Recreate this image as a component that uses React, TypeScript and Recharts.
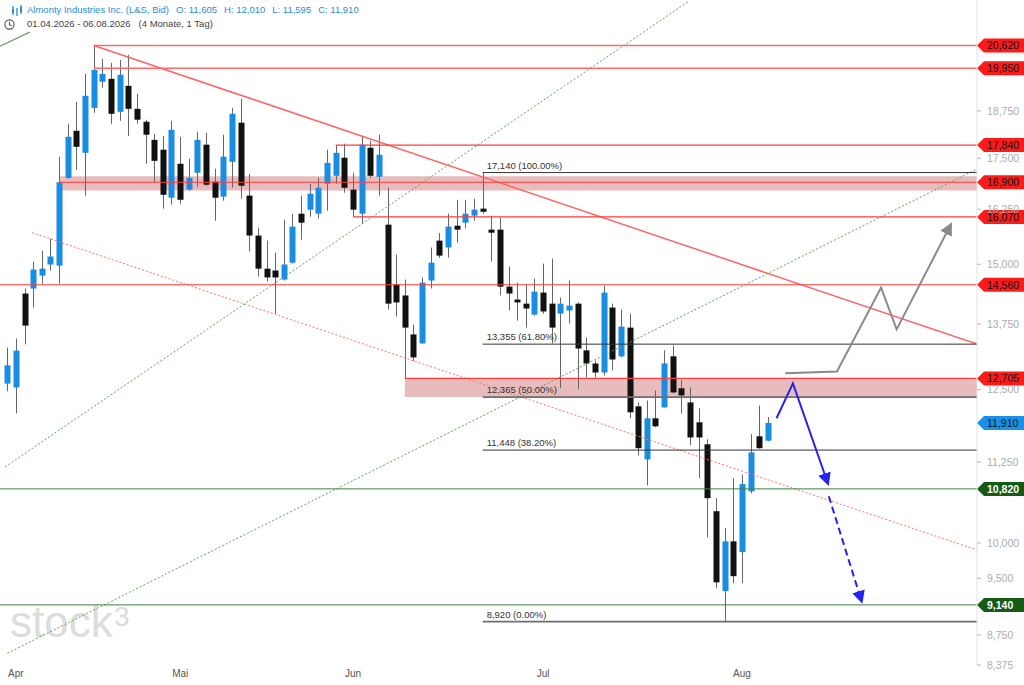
import React from "react";
import {
  ComposedChart,
  Bar,
  Line,
  XAxis,
  YAxis,
  ReferenceLine,
  ReferenceArea,
} from "recharts";

// ─── Data ─────────────────────────────────────────────────────────────────────

// daily candles 01.04.2026 – 06.08.2026 (L&S, Bid)
const OPEN = [
  12610, 12540, 14375, 14480, 14755, 14995, 14970, 17010, 18215, 17640,
  18830, 19560, 19645, 18725, 19445, 18805, 18455, 17975, 17720, 16525,
  17360, 16720, 17135, 17850, 16915, 16550, 17410, 18430, 16575, 15640,
  14905, 14865, 14670, 15035, 16145, 16240, 16145, 16865, 17060, 17515,
  16720, 16145, 17770, 17035, 15890, 14565, 14335, 13545, 13370, 14650,
  15525, 15370, 15865, 15935, 16100, 16265, 15775, 15775, 14520, 14250,
  14165, 13940, 14395, 14165, 13960, 14025, 14165, 13235, 12985, 12815,
  14085, 13120, 13680, 12200, 11295, 11990, 12180, 13120, 12525, 12270,
  11920, 11545, 10475, 9325, 10025, 9870, 10780, 11680, 11605,
];
const HIGH = [
  13290, 13465, 14480, 15060, 15300, 15570, 17540, 18400, 19000, 19785,
  20620, 20220, 20105, 20190, 20340, 19220, 18510, 18135, 18080, 18480,
  18055, 17490, 18190, 18160, 17235, 18110, 18830, 19080, 17110, 15820,
  15525, 15255, 16005, 16145, 16575, 16865, 17010, 17720, 17840, 17875,
  17135, 18080, 17950, 18110, 16765, 15215, 14670, 13740, 14715, 15370,
  15700, 16145, 16475, 16475, 16500, 17140, 16100, 16050, 14950, 14605,
  14565, 14690, 15015, 15125, 14290, 14650, 14190, 13485, 13040, 14545,
  14165, 14045, 13960, 12270, 12305, 12485, 13235, 13330, 12670, 12540,
  12165, 11630, 10675, 10220, 10990, 11050, 11715, 12215, 12010,
];
const LOW = [
  12470, 12075, 13350, 14085, 14585, 14865, 14585, 16985, 17210, 16575,
  18695, 19390, 18400, 18480, 18080, 18400, 17360, 16890, 16265, 16360,
  16380, 16695, 16790, 16815, 15980, 16455, 16765, 16500, 15280, 14735,
  14630, 13960, 14650, 15015, 15545, 16075, 16030, 16215, 16865, 16645,
  16070, 15915, 17010, 16575, 14045, 13900, 12705, 13025, 13360, 14480,
  15140, 15145, 15480, 15800, 15980, 16145, 15060, 14335, 14025, 13820,
  13680, 13920, 13960, 13370, 12525, 13760, 12505, 12725, 12725, 12760,
  12855, 13100, 11990, 11360, 10875, 11835, 12180, 12430, 12075, 11530,
  10990, 10085, 9365, 8920, 9435, 9435, 10750, 11470, 11595,
];
const CLOSE = [
  12950, 13230, 13720, 14885, 14905, 15170, 16900, 18055, 17795, 19165,
  19900, 19785, 18670, 19760, 18805, 18510, 18110, 17435, 16595, 18240,
  16475, 17010, 17975, 16840, 16525, 17540, 18670, 16815, 15640, 14905,
  14715, 14715, 14995, 15845, 15935, 16620, 16765, 17385, 17640, 16765,
  16240, 17850, 17060, 17590, 14165, 14190, 13680, 13100, 14605, 15035,
  15190, 15845, 15775, 16145, 16240, 16190, 15705, 14520, 14375, 14190,
  14065, 14415, 14005, 13680, 14165, 14125, 13270, 12985, 12815, 14395,
  13060, 13700, 12095, 11480, 11990, 11850, 12985, 12450, 12395, 11660,
  11660, 10675, 9445, 10025, 9530, 10895, 11410, 11480, 11910,
];

const MONTH_TICKS = [0, 20, 40, 62, 85];
const MONTH_LABELS = ["Apr", "Mai", "Jun", "Jul", "Aug"];
const PRICE_TICKS = [8375, 8750, 9500, 10000, 11250, 12500, 13750, 15000, 16250, 17500, 18750];

// support / resistance levels and the candle index where each one starts
const RED_LEVELS = [20620, 19950, 17840, 16900, 16070, 14560, 12705];
const RED_STARTS = [10, 10, 38, 6, 40, 0, 46];
const GREEN_LEVELS = [10820, 9140];
const LAST_PRICE = 11910;

// shaded zones: [bottom, top], start index
const ZONE_LOWS = [16700, 12365];
const ZONE_HIGHS = [17050, 12705];
const ZONE_STARTS = [6, 46];

// Fibonacci retracement from the 17,140 high (index 55)
const FIB_LEVELS = [17140, 13355, 12365, 11448, 8920];
const FIB_LABELS = ["100.00%", "61.80%", "50.00%", "38.20%", "0.00%"];
const FIB_START = 55;

// trend lines
const DOWN_TREND = [{ i: 10, v: 20620 }, { i: 112.2, v: 13355 }];
const DOWN_CHANNEL = [{ i: 2.85, v: 15705 }, { i: 112.2, v: 9900 }];
const UP_LINE_A = [{ i: 0, v: 8520 }, { i: 112.2, v: 17230 }];
const UP_LINE_B = [{ i: -0.27, v: 11170 }, { i: 78.9, v: 22000 }];
const OLD_LINE = [{ i: -0.85, v: 20600 }, { i: 2.6, v: 21025 }];

// projected scenarios
const GRAY_PATH = [
  { i: 90, v: 12800 },
  { i: 96, v: 12835 },
  { i: 101.1, v: 14500 },
  { i: 102.9, v: 13645 },
  { i: 109.1, v: 15865 },
];
const BLUE_PATH = [
  { i: 89, v: 11990 },
  { i: 90.9, v: 12615 },
  { i: 94.9, v: 10925 },
];
const BLUE_DASH = [
  { i: 95.05, v: 10705 },
  { i: 98.8, v: 9205 },
];

// ─── Styles ───────────────────────────────────────────────────────────────────

const FONT = 'Arial, "Liberation Sans", sans-serif';
const UP_COLOR = "#178ee4";
const DOWN_COLOR = "#111111";
const WICK_COLOR = "#666666";
const RED = "#ff3b3b";
const GREEN = "#3c7f3c";
const BODY_W = 6;
const X_MAX = 112.2;
const Y_DOMAIN: [number, number] = [8375, 22030];

const fmt = (v: number) => v.toLocaleString("en-US");

const candles = OPEN.map((o, idx) => ({
  i: idx,
  o,
  h: HIGH[idx],
  l: LOW[idx],
  c: CLOSE[idx],
}));

// ─── Shapes ───────────────────────────────────────────────────────────────────

function Candle(props: any) {
  const { x, y, width, height, payload } = props;
  if (!payload || x == null) return null;
  const { o, h, l, c } = payload;
  const top = Math.min(y, y + height);
  const bottom = Math.max(y, y + height);
  const span = Math.log(h) - Math.log(l);
  // log axis: interpolate body edges between the high and low pixels
  const py = (v: number) =>
    span > 0 ? top + ((bottom - top) * (Math.log(h) - Math.log(v))) / span : top;
  const bodyTop = py(Math.max(o, c));
  const bodyBottom = py(Math.min(o, c));
  const cx = Math.round(x + (width || 0) / 2) + 0.5;
  return (
    <g>
      <line x1={cx} x2={cx} y1={top} y2={bottom} stroke={WICK_COLOR} strokeWidth={1} />
      <rect
        x={cx - BODY_W / 2}
        y={bodyTop}
        width={BODY_W}
        height={Math.max(1, bodyBottom - bodyTop)}
        fill={c >= o ? UP_COLOR : DOWN_COLOR}
      />
    </g>
  );
}

function MonthTick(props: any) {
  const { x, y, payload, index } = props;
  const label = MONTH_LABELS[MONTH_TICKS.indexOf(payload.value)] ?? "";
  return (
    <text
      x={index === 0 ? Math.max(x, 8) : x}
      y={y}
      dy="0.8em"
      textAnchor={index === 0 ? "start" : "middle"}
      fontSize={10}
      fontFamily={FONT}
      fill="#555"
    >
      {label}
    </text>
  );
}

const priceTag = (value: number, fill: string, color: string, bold = false) =>
  (props: any) => {
    const vb = props.viewBox || {};
    const x0 = (vb.x ?? 0) + (vb.width ?? 0);
    const yc = vb.y ?? 0;
    return (
      <g>
        <path
          d={`M${x0},${yc} L${x0 + 7},${yc - 7} L1024,${yc - 7} L1024,${yc + 7} L${x0 + 7},${yc + 7} Z`}
          fill={fill}
        />
        <text
          x={x0 + 10}
          y={yc}
          dy="0.36em"
          fontSize={10.5}
          fontFamily={FONT}
          fontWeight={bold ? 700 : 400}
          fill={color}
        >
          {fmt(value)}
        </text>
      </g>
    );
  };

const fibLabel = (value: number, pct: string) => (props: any) => {
  const vb = props.viewBox || {};
  return (
    <text
      x={(vb.x ?? 0) + 4}
      y={(vb.y ?? 0) - 4}
      fontSize={9.5}
      fontFamily={FONT}
      fill="#333"
    >
      {`${fmt(value)} (${pct})`}
    </text>
  );
};

// ─── Chart ────────────────────────────────────────────────────────────────────

export default function App() {
  const lastIdx = OPEN.length - 1;
  return (
    <div
      style={{
        position: "absolute",
        left: 0,
        top: 0,
        width: 1024,
        height: 685,
        background: "#fff",
        overflow: "hidden",
        fontFamily: FONT,
      }}
    >
      <svg width={0} height={0} style={{ position: "absolute" }}>
        <defs>
          <marker id="arrGray" viewBox="0 0 10 10" refX="7" refY="5" markerWidth="13" markerHeight="13" markerUnits="userSpaceOnUse" orient="auto">
            <path d="M0,0 L10,5 L0,10 Z" fill="#8a8a8a" />
          </marker>
          <marker id="arrBlue" viewBox="0 0 10 10" refX="7" refY="5" markerWidth="13" markerHeight="13" markerUnits="userSpaceOnUse" orient="auto">
            <path d="M0,0 L10,5 L0,10 Z" fill="#2424ee" />
          </marker>
        </defs>
      </svg>

      {/* watermark */}
      <div style={{ position: "absolute", left: 10, top: 600, fontSize: 44, lineHeight: "44px", color: "#dcdcdc" }}>
        stock
      </div>
      <div style={{ position: "absolute", left: 114, top: 603, fontSize: 28, lineHeight: "28px", color: "#dcdcdc" }}>
        3
      </div>

      <div style={{ position: "absolute", left: 0, top: 0 }}>
        <ComposedChart
          width={1024}
          height={685}
          data={candles}
          margin={{ top: 0, right: 0, bottom: 0, left: 0 }}
        >
          <XAxis
            dataKey="i"
            type="number"
            domain={[-0.85, X_MAX]}
            allowDataOverflow
            ticks={MONTH_TICKS}
            interval={0}
            axisLine={false}
            tickLine={false}
            tickSize={0}
            tickMargin={4}
            height={20}
            tick={<MonthTick />}
          />
          <YAxis
            orientation="right"
            scale="log"
            domain={Y_DOMAIN}
            allowDataOverflow
            ticks={PRICE_TICKS}
            interval={0}
            tickFormatter={fmt}
            width={47}
            axisLine={{ stroke: "#e2e2e2" }}
            tickLine={{ stroke: "#b5b5b5" }}
            tickSize={4}
            tickMargin={6}
            tick={{ fontSize: 10.5, fill: "#adadad", fontFamily: FONT }}
          />

          {/* trend lines */}
          <ReferenceLine segment={UP_LINE_A.map((p) => ({ x: p.i, y: p.v }))} stroke="#5f9f5f" strokeDasharray="2 2" ifOverflow="hidden" />
          <ReferenceLine segment={UP_LINE_B.map((p) => ({ x: p.i, y: p.v }))} stroke="#5f9f5f" strokeDasharray="2 2" ifOverflow="hidden" />
          <ReferenceLine segment={OLD_LINE.map((p) => ({ x: p.i, y: p.v }))} stroke="#6aa36a" strokeWidth={1.2} ifOverflow="hidden" />
          <ReferenceLine segment={DOWN_CHANNEL.map((p) => ({ x: p.i, y: p.v }))} stroke="#ff7070" strokeDasharray="2 2" ifOverflow="hidden" />
          <ReferenceLine segment={DOWN_TREND.map((p) => ({ x: p.i, y: p.v }))} stroke="#ff6464" strokeWidth={1.5} ifOverflow="hidden" />

          {/* horizontal levels */}
          {GREEN_LEVELS.map((v) => (
            <ReferenceLine
              key={`g-${v}`}
              segment={[{ x: -0.85, y: v }, { x: X_MAX, y: v }]}
              stroke={GREEN}
              label={priceTag(v, "#155a15", "#fff", true)}
            />
          ))}
          {FIB_LEVELS.map((v, k) => (
            <ReferenceLine
              key={`f-${v}`}
              segment={[{ x: FIB_START, y: v }, { x: X_MAX, y: v }]}
              stroke={k === 2 || k === 4 ? "#6e6e6e" : "#333"}
              strokeWidth={k === 2 || k === 4 ? 1.6 : 1}
              label={fibLabel(v, FIB_LABELS[k])}
            />
          ))}

          <Bar
            dataKey={(d: any) => [d.l, d.h]}
            barSize={BODY_W}
            shape={<Candle />}
            isAnimationActive={false}
          />

          {ZONE_LOWS.map((lo, k) => (
            <ReferenceArea
              key={`z-${lo}`}
              x1={ZONE_STARTS[k]}
              x2={X_MAX}
              y1={lo}
              y2={ZONE_HIGHS[k]}
              fill="#d27a7a"
              fillOpacity={0.5}
              stroke="none"
              ifOverflow="hidden"
            />
          ))}

          {RED_LEVELS.map((v, k) => (
            <ReferenceLine
              key={`r-${v}`}
              segment={[{ x: RED_STARTS[k] === 0 ? -0.85 : RED_STARTS[k], y: v }, { x: X_MAX, y: v }]}
              stroke={k < 2 ? "#ff6a6a" : RED}
              strokeWidth={k < 2 ? 1.5 : 1.2}
              label={priceTag(v, "#ff1a1a", "#111")}
            />
          ))}
          <ReferenceLine
            segment={[{ x: X_MAX - 1, y: LAST_PRICE }, { x: X_MAX, y: LAST_PRICE }]}
            stroke="none"
            label={priceTag(LAST_PRICE, "#1a90e8", "#111")}
          />

          {/* projected scenarios */}
          <Line
            data={GRAY_PATH}
            dataKey="v"
            type="linear"
            stroke="#8a8a8a"
            strokeWidth={2}
            dot={false}
            activeDot={false}
            markerEnd="url(#arrGray)"
            isAnimationActive={false}
          />
          <Line
            data={BLUE_PATH}
            dataKey="v"
            type="linear"
            stroke="#2424ee"
            strokeWidth={2}
            dot={false}
            activeDot={false}
            markerEnd="url(#arrBlue)"
            isAnimationActive={false}
          />
          <Line
            data={BLUE_DASH}
            dataKey="v"
            type="linear"
            stroke="#2424ee"
            strokeWidth={2}
            strokeDasharray="7 4"
            dot={false}
            activeDot={false}
            markerEnd="url(#arrBlue)"
            isAnimationActive={false}
          />
        </ComposedChart>
      </div>

      {/* header */}
      <div
        style={{
          position: "absolute",
          left: 11,
          top: 4,
          fontSize: 9.5,
          lineHeight: "12px",
          color: "#2d8bd4",
          display: "flex",
          alignItems: "center",
          whiteSpace: "nowrap",
        }}
      >
        <svg width={12} height={11} style={{ marginRight: 4 }}>
          <g stroke="#2d8bd4" strokeWidth={1.3}>
            <line x1={2} y1={1} x2={2} y2={10} />
            <line x1={6} y1={3} x2={6} y2={11} />
            <line x1={10} y1={0} x2={10} y2={9} />
          </g>
          <rect x={1} y={4} width={2} height={4} fill="#2d8bd4" />
          <rect x={9} y={2} width={2} height={5} fill="#2d8bd4" />
        </svg>
        <span style={{ marginRight: 7 }}>Almonty Industries Inc. (L&amp;S, Bid)</span>
        <span style={{ marginRight: 7 }}>O: {fmt(OPEN[lastIdx])}</span>
        <span style={{ marginRight: 7 }}>H: {fmt(HIGH[lastIdx])}</span>
        <span style={{ marginRight: 7 }}>L: {fmt(LOW[lastIdx])}</span>
        <span>C: {fmt(CLOSE[lastIdx])}</span>
      </div>
      <div
        style={{
          position: "absolute",
          left: 4,
          top: 18,
          fontSize: 9.5,
          lineHeight: "12px",
          color: "#444",
          display: "flex",
          alignItems: "center",
          whiteSpace: "nowrap",
        }}
      >
        <svg width={11} height={11} style={{ marginRight: 12 }}>
          <circle cx={5.5} cy={5.5} r={4.6} fill="none" stroke="#555" strokeWidth={1.1} />
          <path d="M5.5,2.8 L5.5,5.8 L7.6,7" fill="none" stroke="#555" strokeWidth={1.1} />
        </svg>
        <span style={{ marginRight: 8 }}>01.04.2026 - 06.08.2026</span>
        <span>(4 Monate, 1 Tag)</span>
      </div>
    </div>
  );
}
